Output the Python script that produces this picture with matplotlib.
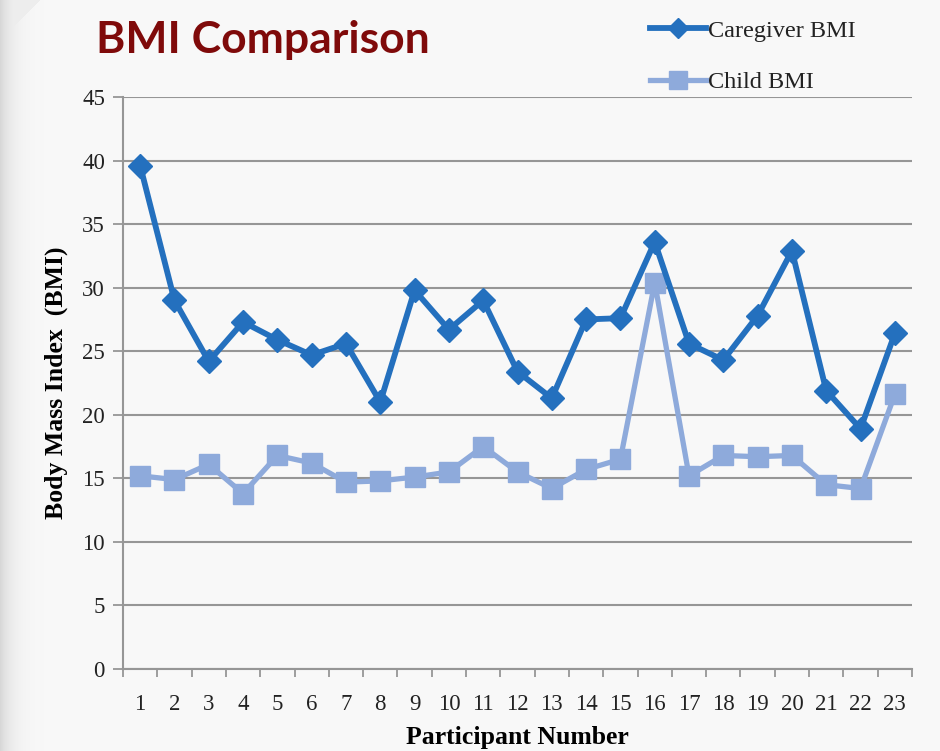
import numpy as np
import matplotlib
matplotlib.use("Agg")
import matplotlib.pyplot as plt
from matplotlib.ticker import FixedLocator

participants = list(range(1, 24))
caregiver_bmi = [39.6, 29.0, 24.2, 27.3, 25.9, 24.7, 25.6, 21.0, 29.8, 26.7, 29.0, 23.4,
                 21.3, 27.5, 27.6, 33.6, 25.6, 24.3, 27.8, 32.9, 21.9, 18.9, 26.4]
child_bmi = [15.2, 14.9, 16.1, 13.8, 16.8, 16.2, 14.7, 14.8, 15.1, 15.5, 17.5, 15.5,
             14.2, 15.7, 16.5, 30.4, 15.2, 16.8, 16.7, 16.8, 14.5, 14.2, 21.6]
y_ticks = list(range(0, 50, 5))

W, H = 940, 751
fig = plt.figure(figsize=(W / 100, H / 100), dpi=100)
fig.patch.set_facecolor("#f9f9f9")

# background with left-edge shadow
bg = fig.add_axes([0, 0, 1, 1], zorder=-10)
xs = np.arange(W)
shade = 0.976 - 0.13 * np.exp(-xs / 12.0)
img = np.tile(shade, (H, 1))
yy, xx = np.mgrid[0:H, 0:W]
corner = (xx + yy < 40) & (yy < 30)
img = np.where(corner, np.minimum(img, 0.93), img)
bg.imshow(np.dstack([img, img, img]), aspect="auto", extent=[0, W, H, 0])
bg.axis("off")

ax = fig.add_axes([123 / W, 1 - 669 / H, (912 - 123) / W, (669 - 97) / H])
ax.set_facecolor("none")

dark = "#2470be"
light = "#8eaadb"
ax.plot(participants, child_bmi, color=light, lw=3.8, marker="s", ms=15,
        label="Child BMI", zorder=3)
ax.plot(participants, caregiver_bmi, color=dark, lw=4.2, marker="D", ms=12,
        label="Caregiver BMI", zorder=4)

ax.set_xlim(0.5, 23.5)
ax.set_ylim(0, 45)
ax.set_yticks(y_ticks)
ax.set_xticks(participants)
ax.xaxis.set_minor_locator(FixedLocator(np.arange(0.5, 24, 1)))
ax.tick_params(axis="x", which="major", length=0, pad=18)
ax.tick_params(axis="x", which="minor", length=6, width=1.3, color="#969696",
               direction="out")
ax.tick_params(axis="y", length=7, width=1.3, color="#969696", direction="out", pad=6)

serif = "Liberation Serif"
for lab in ax.get_xticklabels() + ax.get_yticklabels():
    lab.set_fontfamily(serif)
    lab.set_fontsize(16.5)
    lab.set_color("#222222")

ax.grid(axis="y", color="#969696", lw=1.5)
ax.set_axisbelow(True)
for s in ["top", "right"]:
    ax.spines[s].set_visible(False)
for s in ["left", "bottom"]:
    ax.spines[s].set_color("#969696")
    ax.spines[s].set_linewidth(1.5)

ax.set_xlabel("Participant Number", fontfamily=serif, fontweight="bold",
              fontsize=18.5, labelpad=8)
ax.set_ylabel("Body Mass Index  (BMI)", fontfamily=serif, fontweight="bold",
              fontsize=18.5, labelpad=10)

fig.text(96 / W, 1 - 53 / H, "BMI Comparison", fontfamily="Lato", fontweight="bold",
         fontsize=32, color="#7f0a0a", ha="left", va="baseline")

handles, labels = ax.get_legend_handles_labels()
leg = fig.legend(handles[::-1], labels[::-1], loc="upper left",
                 bbox_to_anchor=(628 / W, 1 + 2 / H), frameon=False,
                 prop={"family": serif, "size": 17.5}, handlelength=2.3,
                 handletextpad=0.1, labelspacing=1.2, markerscale=0.85)
for t in leg.get_texts():
    t.set_color("#222222")

fig.savefig("out.png", dpi=100, facecolor=fig.get_facecolor())
